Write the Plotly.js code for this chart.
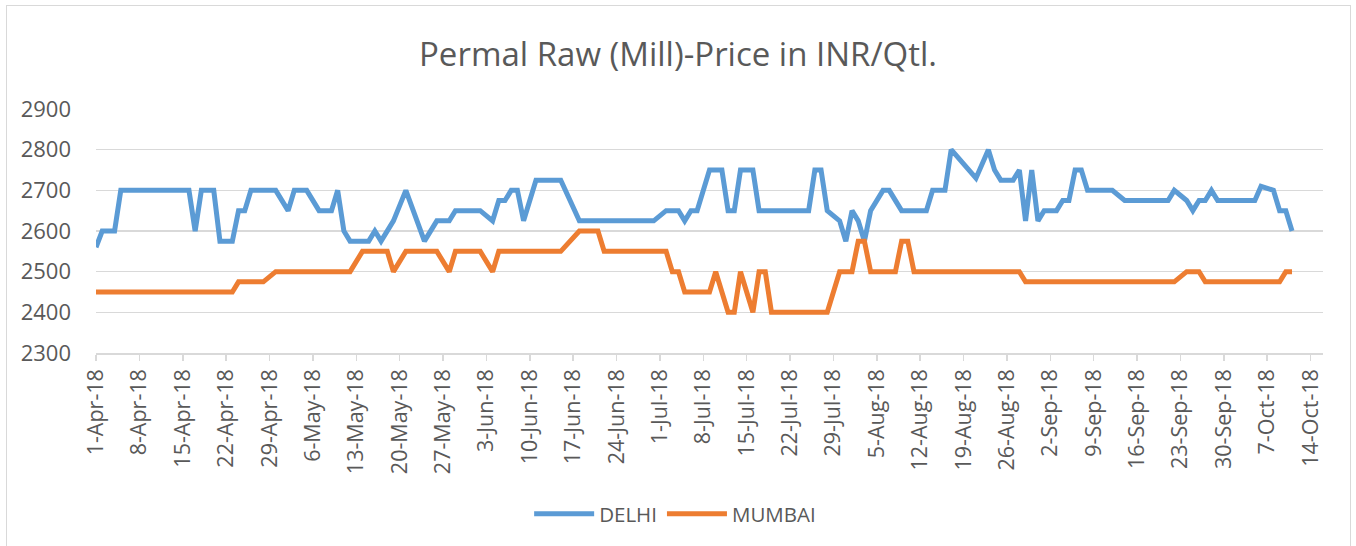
<!DOCTYPE html>
<html>
<head>
<meta charset="utf-8">
<script src="https://cdn.plot.ly/plotly-3.0.1.min.js"></script>
<style>
  html, body { margin: 0; padding: 0; background: #ffffff; }
  #wrap { position: relative; width: 1356px; height: 546px; }
  #chart { position: absolute; left: 0; top: 0; width: 1356px; height: 546px; }
  #frame { position: absolute; left: 6px; top: 5px; width: 1343px; height: 560px; border: 1px solid #d9d9d9; pointer-events: none; }
</style>
</head>
<body>
<div id="wrap"><div id="chart"></div><div id="frame"></div></div>
<script>
const chartTitle = "Permal Raw (Mill)-Price in INR/Qtl.";
const seriesNames = ["DELHI", "MUMBAI"];

const delhiDates = ["2018-04-01","2018-04-02","2018-04-04","2018-04-05","2018-04-16","2018-04-17","2018-04-18","2018-04-20","2018-04-21","2018-04-23","2018-04-24","2018-04-25","2018-04-26","2018-04-30","2018-05-02","2018-05-03","2018-05-05","2018-05-07","2018-05-09","2018-05-10","2018-05-11","2018-05-12","2018-05-15","2018-05-16","2018-05-17","2018-05-19","2018-05-21","2018-05-24","2018-05-26","2018-05-28","2018-05-29","2018-06-02","2018-06-04","2018-06-05","2018-06-06","2018-06-07","2018-06-08","2018-06-09","2018-06-11","2018-06-15","2018-06-18","2018-06-30","2018-07-02","2018-07-04","2018-07-05","2018-07-06","2018-07-07","2018-07-09","2018-07-11","2018-07-12","2018-07-13","2018-07-14","2018-07-16","2018-07-17","2018-07-25","2018-07-26","2018-07-27","2018-07-28","2018-07-30","2018-07-31","2018-08-01","2018-08-02","2018-08-03","2018-08-04","2018-08-06","2018-08-07","2018-08-09","2018-08-13","2018-08-14","2018-08-16","2018-08-17","2018-08-21","2018-08-23","2018-08-24","2018-08-25","2018-08-27","2018-08-28","2018-08-29","2018-08-30","2018-08-31","2018-09-01","2018-09-03","2018-09-04","2018-09-05","2018-09-06","2018-09-07","2018-09-08","2018-09-12","2018-09-14","2018-09-21","2018-09-22","2018-09-24","2018-09-25","2018-09-26","2018-09-27","2018-09-28","2018-09-29","2018-10-05","2018-10-06","2018-10-08","2018-10-09","2018-10-10","2018-10-11"];
const delhiValues = [2560,2600,2600,2700,2700,2600,2700,2700,2575,2575,2650,2650,2700,2700,2650,2700,2700,2650,2650,2700,2600,2575,2575,2600,2575,2625,2700,2575,2625,2625,2650,2650,2625,2675,2675,2700,2700,2625,2725,2725,2625,2625,2650,2650,2625,2650,2650,2750,2750,2650,2650,2750,2750,2650,2650,2750,2750,2650,2625,2575,2650,2625,2575,2650,2700,2700,2650,2650,2700,2700,2800,2730,2800,2750,2725,2725,2750,2625,2750,2625,2650,2650,2675,2675,2750,2750,2700,2700,2675,2675,2700,2675,2650,2675,2675,2700,2675,2675,2710,2700,2650,2650,2600];

const mumbaiDates = ["2018-04-01","2018-04-23","2018-04-24","2018-04-28","2018-04-30","2018-05-12","2018-05-14","2018-05-18","2018-05-19","2018-05-21","2018-05-26","2018-05-28","2018-05-29","2018-06-02","2018-06-04","2018-06-05","2018-06-15","2018-06-18","2018-06-21","2018-06-22","2018-07-02","2018-07-03","2018-07-04","2018-07-05","2018-07-09","2018-07-10","2018-07-12","2018-07-13","2018-07-14","2018-07-16","2018-07-17","2018-07-18","2018-07-19","2018-07-28","2018-07-30","2018-08-01","2018-08-02","2018-08-03","2018-08-04","2018-08-08","2018-08-09","2018-08-10","2018-08-11","2018-08-28","2018-08-29","2018-09-22","2018-09-24","2018-09-26","2018-09-27","2018-10-09","2018-10-10","2018-10-11"];
const mumbaiValues = [2450,2450,2475,2475,2500,2500,2550,2550,2500,2550,2550,2500,2550,2550,2500,2550,2550,2600,2600,2550,2550,2500,2500,2450,2450,2500,2400,2400,2500,2400,2500,2500,2400,2400,2500,2500,2575,2575,2500,2500,2575,2575,2500,2500,2475,2475,2500,2500,2475,2475,2500,2500];

const textColor = "#595959";
const fontFam = "'Open Sans', 'Liberation Sans', sans-serif";

const traces = [
  { x: delhiDates, y: delhiValues, name: seriesNames[0], type: "scatter", mode: "lines",
    line: { color: "#5B9BD5", width: 5, shape: "linear" } },
  { x: mumbaiDates, y: mumbaiValues, name: seriesNames[1], type: "scatter", mode: "lines",
    line: { color: "#ED7D31", width: 5, shape: "linear" } }
];

const layout = {
  width: 1356, height: 546,
  paper_bgcolor: "#ffffff", plot_bgcolor: "#ffffff",
  margin: { l: 96, r: 33, t: 109, b: 193 },
  font: { family: fontFam, color: textColor, size: 21 },
  title: { text: chartTitle, x: 0.5, xref: "container", xanchor: "center",
           y: 0.9, yref: "container", yanchor: "middle",
           font: { family: fontFam, size: 33, color: textColor } },
  xaxis: {
    type: "date",
    range: ["2018-04-01", "2018-10-16"],
    tick0: "2018-04-01", dtick: 7 * 86400000,
    tickformat: "%-d-%b-%y", tickangle: -90,
    showgrid: false, zeroline: false,
    showline: true, linecolor: "#d9d9d9", linewidth: 1.5,
    ticks: "outside", ticklen: 6, tickcolor: "#d9d9d9", tickwidth: 1.5,
    tickfont: { family: fontFam, size: 21.5, color: textColor },
    fixedrange: true
  },
  yaxis: {
    range: [2300, 2900], dtick: 100, tick0: 2300,
    showgrid: true, gridcolor: "#d9d9d9", gridwidth: 1.5,
    zeroline: false, showline: false, ticks: "",
    ticklabelstandoff: 24,
    tickfont: { family: fontFam, size: 22, color: textColor },
    fixedrange: true
  },
  showlegend: true,
  legend: { orientation: "h", x: 0.472, xanchor: "center", y: -0.66, yanchor: "middle",
            font: { family: fontFam, size: 20.5, color: textColor }, itemwidth: 60 },
  hovermode: false
};

Plotly.newPlot("chart", traces, layout, { displayModeBar: false, staticPlot: true });
</script>
</body>
</html>
